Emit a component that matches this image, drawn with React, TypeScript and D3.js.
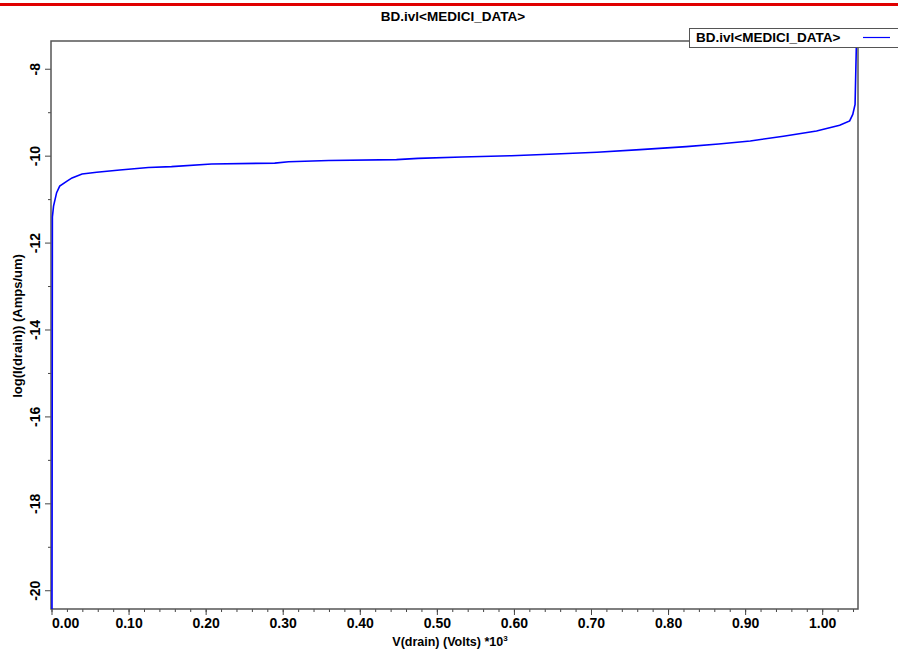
import React, { useEffect, useRef } from 'react';
import { select, scaleLinear, line, range } from 'd3';

// V(drain) in units of 10^3 volts
const vDrain = [0, 0.0005, 0.002, 0.006, 0.010, 0.019, 0.026, 0.039, 0.058, 0.088, 0.125, 0.155, 0.207, 0.289, 0.307, 0.359, 0.447, 0.475, 0.532, 0.596, 0.653, 0.707, 0.763, 0.823, 0.865, 0.906, 0.949, 0.992, 1.022, 1.035, 1.039, 1.042, 1.043, 1.044];
// log10 of drain current (A/um)
const logId = [-20.6, -11.4, -11.15, -10.84, -10.69, -10.58, -10.50, -10.41, -10.37, -10.32, -10.26, -10.24, -10.18, -10.16, -10.13, -10.10, -10.08, -10.05, -10.02, -9.99, -9.95, -9.91, -9.85, -9.78, -9.72, -9.65, -9.54, -9.42, -9.29, -9.19, -9.04, -8.81, -8.0, -7.2];

const xMajor = [0, 0.1, 0.2, 0.3, 0.4, 0.5, 0.6, 0.7, 0.8, 0.9, 1.0];
const xMinor = range(0, 53).map(i => i * 0.02);
const yMajor = [-20, -18, -16, -14, -12, -10, -8];
const yMinor = [-19, -17, -15, -13, -11, -9];

const title = 'BD.ivl<MEDICI_DATA>';
const seriesName = 'BD.ivl<MEDICI_DATA>';

const W = 898, H = 650;
const margin = { left: 51, right: 40, top: 41, bottom: 41 };
const font = '"Liberation Sans", Arial, sans-serif';

export default function App() {
    const ref = useRef<SVGSVGElement>(null);

    useEffect(() => {
        const svg = select(ref.current);
        svg.selectAll('*').remove();

        const x = scaleLinear().domain([-0.0013, 1.0458]).range([margin.left, W - margin.right]);
        const y = scaleLinear().domain([-20.42, -7.35]).range([H - margin.bottom, margin.top]);

        svg.append('rect').attr('width', W).attr('height', H).attr('fill', '#fff');

        // red strip at the very top
        svg.append('rect').attr('x', 0).attr('y', 3).attr('width', W).attr('height', 3).attr('fill', '#e00000');

        svg.append('text')
            .attr('x', 453).attr('y', 21)
            .attr('text-anchor', 'middle')
            .style('font', `bold 13.5px ${font}`)
            .text(title);

        const x0 = x.range()[0], x1 = x.range()[1];
        const y0 = y.range()[0], y1 = y.range()[1];

        svg.append('defs').append('clipPath').attr('id', 'plot-clip')
            .append('rect').attr('x', x0).attr('y', y1).attr('width', x1 - x0).attr('height', y0 - y1);

        // x ticks
        const gx = svg.append('g');
        gx.selectAll('line.minor').data(xMinor).enter().append('line')
            .attr('x1', d => x(d)).attr('x2', d => x(d))
            .attr('y1', y0).attr('y2', y0 + 3)
            .attr('stroke', '#444').attr('stroke-width', 1);
        gx.selectAll('line.major').data(xMajor).enter().append('line')
            .attr('x1', d => x(d)).attr('x2', d => x(d))
            .attr('y1', y0).attr('y2', y0 + 6)
            .attr('stroke', '#444').attr('stroke-width', 1);
        gx.selectAll('text').data(xMajor).enter().append('text')
            .attr('x', d => x(d))
            .attr('y', y0 + 19)
            .attr('text-anchor', (d, i) => i === 0 ? 'start' : 'middle')
            .style('font', `bold 14px ${font}`)
            .text(d => d.toFixed(2));

        // y ticks
        const gy = svg.append('g');
        gy.selectAll('line.minor').data(yMinor).enter().append('line')
            .attr('x1', x0 - 3).attr('x2', x0)
            .attr('y1', d => y(d)).attr('y2', d => y(d))
            .attr('stroke', '#444').attr('stroke-width', 1);
        gy.selectAll('line.major').data(yMajor).enter().append('line')
            .attr('x1', x0 - 6).attr('x2', x0)
            .attr('y1', d => y(d)).attr('y2', d => y(d))
            .attr('stroke', '#444').attr('stroke-width', 1);
        gy.selectAll('text').data(yMajor).enter().append('text')
            .attr('transform', d => `translate(${x0 - 11},${y(d)}) rotate(-90)`)
            .attr('text-anchor', 'middle')
            .style('font', `bold 14px ${font}`)
            .text(d => String(d));

        // axis titles
        svg.append('text')
            .attr('transform', `translate(22,326) rotate(-90)`)
            .attr('text-anchor', 'middle')
            .style('font', `bold 13px ${font}`)
            .text('log(I(drain)) (Amps/um)');

        const xt = svg.append('text')
            .attr('x', 450).attr('y', 646)
            .attr('text-anchor', 'middle')
            .style('font', `bold 12.5px ${font}`);
        xt.append('tspan').text('V(drain) (Volts) *10');
        xt.append('tspan').attr('dy', -5).style('font-size', '8px').text('3');

        // frame
        svg.append('rect')
            .attr('x', x0).attr('y', y1).attr('width', x1 - x0).attr('height', y0 - y1)
            .attr('fill', 'none').attr('stroke', '#555').attr('stroke-width', 1.5);

        // data
        const pts = vDrain.map((v, i) => [v, logId[i]] as [number, number]);
        svg.append('path')
            .datum(pts)
            .attr('clip-path', 'url(#plot-clip)')
            .attr('d', line<[number, number]>().x(d => x(d[0])).y(d => y(d[1])))
            .attr('fill', 'none')
            .attr('stroke', '#0000ff')
            .attr('stroke-width', 1.6);

        // legend
        const lg = svg.append('g');
        lg.append('rect')
            .attr('x', 689.5).attr('y', 28.5).attr('width', 220).attr('height', 19)
            .attr('fill', '#fff').attr('stroke', '#555').attr('stroke-width', 1);
        lg.append('text')
            .attr('x', 696).attr('y', 42)
            .style('font', `bold 13.5px ${font}`)
            .text(seriesName);
        lg.append('line')
            .attr('x1', 863).attr('x2', 890).attr('y1', 37.5).attr('y2', 37.5)
            .attr('stroke', '#0000ff').attr('stroke-width', 1.2);
    }, []);

    return (
        <svg ref={ref} width={W} height={H} style={{ position: 'absolute', left: 0, top: 0 }} />
    );
}
